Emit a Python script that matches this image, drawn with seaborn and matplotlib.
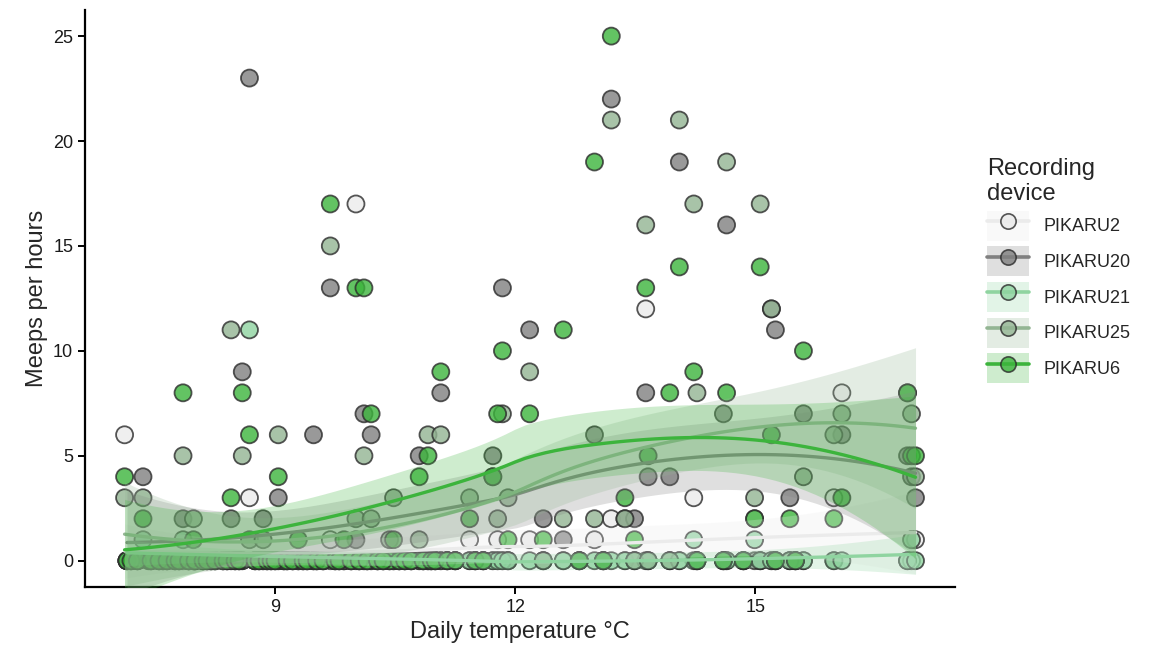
import numpy as np
import pandas as pd
import matplotlib
matplotlib.use("Agg")
import matplotlib.pyplot as plt
import seaborn as sns
from matplotlib.lines import Line2D
from matplotlib.patches import Patch
from matplotlib.legend_handler import HandlerTuple

# Daily temperature (°C) of each recording day
temps = [7.12, 7.35, 7.42, 7.6, 7.85, 7.98, 8.2, 8.45, 8.59, 8.68, 8.85, 9.04, 9.11, 9.29,
         9.48, 9.69, 9.86, 10.01, 10.11, 10.2, 10.43, 10.48, 10.8, 10.91, 11.07, 11.43, 11.72,
         11.78, 11.84, 11.91, 12.18, 12.35, 12.6, 12.99, 13.2, 13.37, 13.49, 13.63, 13.66,
         13.93, 14.05, 14.23, 14.27, 14.6, 14.64, 14.99, 15.06, 15.2, 15.25, 15.43, 15.6,
         15.98, 16.08, 16.9, 16.95, 17.0]

# Meeps per hour on those days, per device (None = no recording)
pikaru2 = [6, None, None, 0, 0, 0, 0, 0, 0, 3, 0, 0, 0, 0,
           0, 1, 0, 17, 0, 0, 0, 0, 0, 0, 0, 1, 0,
           1, 0, 0, 1, 0, 0, 1, 2, 0, 0, 12, 0,
           0, 0, 3, 0, 0, 0, 2, 0, 0, 0, 0, 0,
           3, 8, 0, 0, 1]
pikaru20 = [None, 4, 0, 0, 2, 0, 0, 2, 9, 23, 2, 3, 0, 0,
            6, 13, 0, 1, 7, 6, 0, 0, 5, 0, 8, 0, 5,
            0, 13, 0, 11, 2, 1, 6, 22, 2, 2, 8, 4,
            4, 19, 0, 0, 7, 16, 0, 0, 12, 11, 3, 7,
            0, 6, 5, 4, 3]
pikaru21 = [None, 1, None, 0, 1, 0, 0, 0, 0, 11, 0, 0, 0, 0,
            0, 0, 0, 0, 0, 0, 0, 0, 0, 0, 0, 0, 0,
            0, 0, 0, 0, 0, 0, 0, 0, 0, 0, 0, 0,
            0, 0, 1, 0, 0, 0, 1, 0, 0, 0, 0, 0,
            0, 0, 0, 1, 0]
pikaru25 = [3, 3, None, None, 5, 2, 0, 11, 5, 1, 1, 6, 0, 0,
            0, 15, 0, 2, 5, 2, 1, 3, 1, 6, 6, 3, 4,
            2, 7, 3, 9, 0, 2, 2, 21, 2, 0, 16, 0,
            0, 21, 17, 8, 0, 19, 3, 17, 12, 0, 0, 4,
            6, 7, 8, 7, 4]
pikaru6 = [4, 2, 0, 0, 8, 1, 0, 3, 8, 6, 0, 4, 0, 1,
           0, 17, 1, 13, 13, 7, 0, 1, 4, 5, 9, 2, 4,
           7, 10, 1, 7, 1, 11, 19, 25, 3, 1, 13, 5,
           8, 14, 9, 0, 0, 8, 2, 14, 6, 0, 2, 10,
           2, 3, 8, 5, 5]

# Days with no meeps on any device
quiet_temps = [7.15, 7.2, 7.28, 7.45, 7.55, 7.65, 7.75, 7.8, 7.92, 8.0, 8.1, 8.15, 8.25,
               8.35, 8.4, 8.5, 8.55, 8.75, 8.8, 8.9, 8.95, 9.0, 9.15, 9.22, 9.35, 9.4,
               9.52, 9.6, 9.75, 9.8, 9.95, 10.05, 10.15, 10.28, 10.35, 10.55, 10.62, 10.7,
               10.85, 10.95, 11.0, 11.15, 11.25, 11.5, 11.6, 12.8, 13.1, 14.85, 15.5]

devices = ["PIKARU2", "PIKARU20", "PIKARU21", "PIKARU25", "PIKARU6"]
colours = ["#ebebeb", "#808080", "#8fd4a0", "#93b593", "#3cb43c"]
counts = [pikaru2, pikaru20, pikaru21, pikaru25, pikaru6]

rows = []
for dev, vals in zip(devices, counts):
    for t, c in zip(temps, vals):
        if c is not None:
            rows.append((dev, t, c))
    for t in quiet_temps:
        rows.append((dev, t, 0))
df = pd.DataFrame(rows, columns=["device", "temp", "meeps"])


# local quadratic smoother with 95% confidence band
def loess_fit(x, y, grid, span=1.0):
    n = len(x)
    q = min(n, int(np.floor(n * span)))

    def row(x0):
        d = np.abs(x - x0)
        h = np.sort(d)[q - 1] * max(span, 1.0) * 1.0001
        u = np.clip(d / h, 0, 1)
        w = (1 - u ** 3) ** 3
        A = np.column_stack([np.ones(n), x - x0, (x - x0) ** 2])
        AW = A.T * w
        return np.linalg.solve(AW @ A, AW)[0]

    L = np.array([row(v) for v in x])
    G = np.array([row(v) for v in grid])
    fit = G @ y
    R = np.eye(n) - L
    RR = R.T @ R
    d1 = np.trace(RR)
    d2 = np.trace(RR @ RR)
    sigma = np.sqrt(np.sum((R @ y) ** 2) / d1)
    se = sigma * np.sqrt((G ** 2).sum(axis=1))
    nu = d1 ** 2 / d2
    z = 1.959964
    t = z + (z ** 3 + z) / (4 * nu) + (5 * z ** 5 + 16 * z ** 3 + 3 * z) / (96 * nu ** 2)
    return fit, fit - t * se, fit + t * se


sns.set_theme(style="ticks")
plt.rcParams["font.family"] = ["Liberation Sans", "DejaVu Sans"]

fig = plt.figure(figsize=(11.73, 6.58), dpi=100)
ax = fig.add_axes([0.0725, 0.108, 0.7417, 0.877])

sns.scatterplot(data=df, x="temp", y="meeps", hue="device", hue_order=devices,
                palette=dict(zip(devices, colours)), s=150, alpha=0.8,
                edgecolor="#2b2b2b", linewidth=1.3, legend=False, ax=ax, zorder=2)

for i, dev in enumerate(devices):
    sub = df[df.device == dev].sort_values("temp")
    x = sub.temp.to_numpy(float)
    y = sub.meeps.to_numpy(float)
    grid = np.linspace(x.min(), x.max(), 80)
    fit, lo, hi = loess_fit(x, y, grid)
    ax.fill_between(grid, lo, hi, color=colours[i], alpha=0.25, linewidth=0, zorder=3 + 2 * i)
    ax.plot(grid, fit, color=colours[i], lw=2.4, zorder=4 + 2 * i)

xr = df.temp.max() - df.temp.min()
ax.set_xlim(df.temp.min() - 0.05 * xr, df.temp.max() + 0.05 * xr)
ax.set_ylim(-1.25, 26.25)
ax.set_xticks([9, 12, 15])
ax.set_yticks([0, 5, 10, 15, 20, 25])
ax.set_xlabel("Daily temperature °C", fontsize=17)
ax.set_ylabel("Meeps per hours", fontsize=17)
sns.despine(ax=ax)
for s in ["left", "bottom"]:
    ax.spines[s].set_linewidth(1.6)
    ax.spines[s].set_color("black")
ax.tick_params(length=5, width=1.4, labelsize=13, color="black", labelcolor="#1a1a1a")

handles = []
for c in colours:
    handles.append((Patch(facecolor=c, alpha=0.25, edgecolor="none"),
                    Line2D([], [], color=c, lw=2.6),
                    Line2D([], [], marker="o", linestyle="none", markerfacecolor=c,
                           markeredgecolor="#2b2b2b", markersize=11, alpha=0.8,
                           markeredgewidth=1.2)))
leg = fig.legend(handles, devices, loc="upper left", bbox_to_anchor=(0.828, 0.785),
                 title="Recording\ndevice", title_fontsize=17, fontsize=13, frameon=False,
                 handlelength=2.3, handleheight=2.2, labelspacing=0.3, handletextpad=0.8,
                 alignment="left", handler_map={tuple: HandlerTuple(ndivide=1)})

fig.savefig("out.png", dpi=100)
